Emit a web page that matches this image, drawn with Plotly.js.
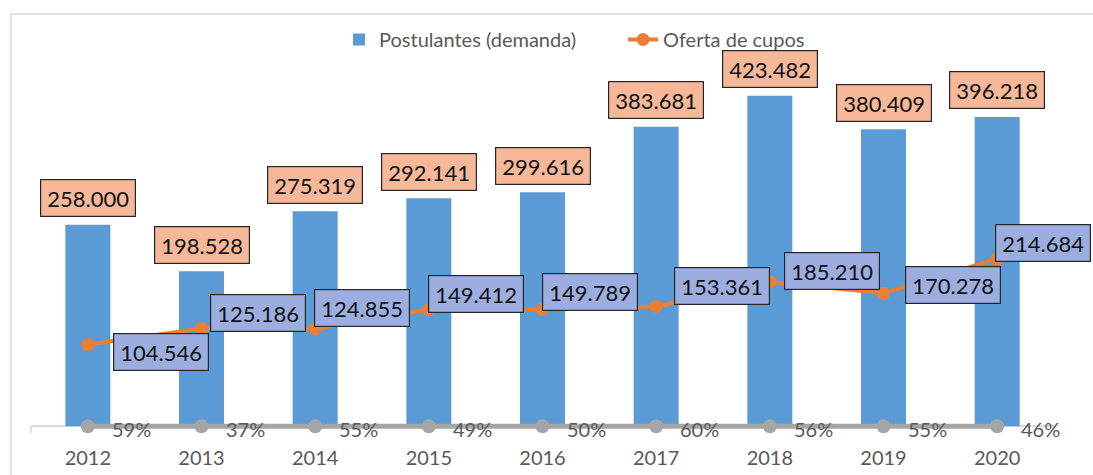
<!DOCTYPE html>
<html>
<head>
<meta charset="utf-8">
<script src="https://cdn.plot.ly/plotly-3.0.1.min.js"></script>
<style>html,body{margin:0;padding:0;background:#fff;}#chart{width:1093px;height:475px;}</style>
</head>
<body>
<div id="chart"></div>
<script>
// ---- data ----
const years = ['2012','2013','2014','2015','2016','2017','2018','2019','2020'];
const postulantes = [258000,198528,275319,292141,299616,383681,423482,380409,396218];
const oferta = [104546,125186,124855,149412,149789,153361,185210,170278,214684];
const cobertura = [0.59,0.37,0.55,0.49,0.50,0.60,0.56,0.55,0.46];
const seriesNames = ['Postulantes (demanda)','Oferta de cupos'];

// ---- label placement (pixels: box-left offset from point, box-centre offset, y down) ----
const ofertaLabelShift = [[25,7.5],[8.5,-15.5],[-1,-20.7],[-1,-16],[-0.6,-17],[18,-21],[14,-11],[21,-8],[-2,-16]];

const FONT = 'Lato, "Open Sans", sans-serif';
const fmt = v => String(v).replace(/\B(?=(\d{3})+(?!\d))/g, '.');

const W = 1093, H = 475, L = 31, R = 39, T = 75, B = 41;
const Y_MIN = -10000, Y_MAX = 450000;
const pw = W - L - R, ph = H - T - B;
const px = x => (x - L) / pw;
const py = y => (H - B - y) / ph;

const traces = [
  {type:'bar', name: seriesNames[0], x: years, y: postulantes,
   marker:{color:'#5B9BD5'}, hoverinfo:'x+y'},
  {type:'scatter', mode:'lines+markers', name: seriesNames[1], x: years, y: oferta,
   line:{color:'#ED7D31', width:4}, marker:{color:'#ED7D31', size:13}, cliponaxis:false},
  {type:'scatter', mode:'lines+markers', name:'Cobertura', x: years, y: cobertura,
   line:{color:'#A5A5A5', width:5}, marker:{color:'#A5A5A5', size:14}, cliponaxis:false, showlegend:false}
];

const annotations = [];
years.forEach((yr, i) => {
  annotations.push({x: i, y: postulantes[i], xref:'x', yref:'y', text: fmt(postulantes[i]),
    showarrow:false, xanchor:'center', yanchor:'bottom', yshift:7.5,
    width:94, height:36, borderpad:0, borderwidth:1.2, bordercolor:'#262626', bgcolor:'#F6B898',
    font:{family:FONT, size:22, color:'#111'}});
  annotations.push({x: i, y: oferta[i], xref:'x', yref:'y', text: fmt(oferta[i]),
    showarrow:false, xanchor:'left', yanchor:'middle',
    xshift: ofertaLabelShift[i][0], yshift: -ofertaLabelShift[i][1],
    width:94, height:36, borderpad:0, borderwidth:1.2, bordercolor:'#262626', bgcolor:'#9CAEDF',
    font:{family:FONT, size:22, color:'#111'}});
  annotations.push({x: i, y: cobertura[i], xref:'x', yref:'y', text: Math.round(cobertura[i]*100) + '%',
    showarrow:false, xanchor:'left', yanchor:'middle', xshift:22, yshift:-3,
    font:{family:FONT, size:20, color:'#595959'}});
});

const layout = {
  width: W, height: H,
  margin:{l:L, r:R, t:T, b:B, pad:0},
  paper_bgcolor:'#fff', plot_bgcolor:'#fff',
  font:{family:FONT, color:'#595959'},
  bargap: 0.604,
  showlegend: true,
  legend:{orientation:'h', x: px(339), y: py(20), xanchor:'left', yanchor:'top', entrywidth:239,
          font:{family:FONT, size:20, color:'#595959'}, bgcolor:'rgba(0,0,0,0)'},
  xaxis:{type:'category', range:[-0.5, years.length - 0.5], autorange:false,
         showline:false, ticks:'',
         tickfont:{family:FONT, size:20, color:'#595959'}, ticklabelstandoff:10,
         showgrid:false, zeroline:false, fixedrange:true},
  yaxis:{range:[Y_MIN, Y_MAX], autorange:false, showgrid:false, zeroline:true, zerolinecolor:'#D9D9D9', zerolinewidth:1.5,
         showticklabels:false, showline:false, ticks:'', fixedrange:true},
  annotations: annotations,
  shapes:[
    {type:'rect', xref:'paper', yref:'paper', x0:px(11), x1:px(1110), y0:py(490), y1:py(14),
     line:{color:'#D9D9D9', width:1.5}, fillcolor:'rgba(0,0,0,0)', layer:'below'},
    {type:'line', xref:'paper', yref:'paper', x0:0, x1:0, y0:py(426), y1:py(433),
     line:{color:'#D9D9D9', width:1.5}}
  ]
};

Plotly.newPlot('chart', traces, layout, {displayModeBar:false, staticPlot:true});
</script>
</body>
</html>
